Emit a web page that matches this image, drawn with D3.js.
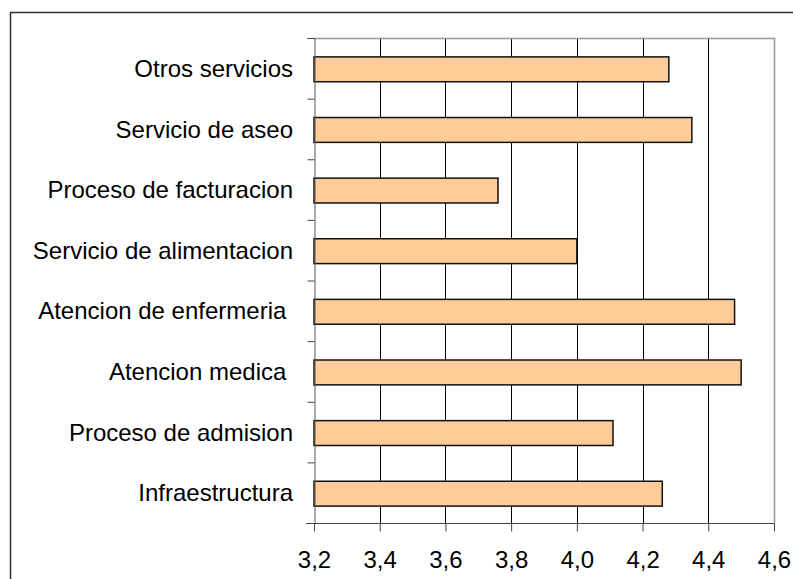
<!DOCTYPE html>
<html>
<head>
<meta charset="utf-8">
<script src="https://cdn.jsdelivr.net/npm/d3@7"></script>
<style>
  body { margin: 0; background: #fff; }
  svg { font-family: "Liberation Sans", Arial, sans-serif; }
  .cat-label { white-space: pre; }
</style>
</head>
<body>
<div id="chart"></div>
<script>
const width = 793;
const height = 579;
// top, right, bottom, left of the plot area
const margin = [38, 19, 56, 314];

// bottom to top, as in the source sheet
const categories = [
  "Infraestructura",
  "Proceso de admision",
  "Atencion medica ",
  "Atencion de enfermeria ",
  "Servicio de alimentacion",
  "Proceso de facturacion",
  "Servicio de aseo",
  "Otros servicios"
];
const values = [4.26, 4.11, 4.50, 4.48, 4.00, 3.76, 4.35, 4.28];
const xTicks = [3.2, 3.4, 3.6, 3.8, 4.0, 4.2, 4.4, 4.6];

const data = categories.map((c, i) => ({ category: c, value: values[i] }));

const svg = d3.select("#chart")
  .append("svg")
  .attr("width", width)
  .attr("height", height);

// outer chart frame (right and bottom run off the picture)
svg.append("rect")
  .attr("x", 10.5).attr("y", 12.5)
  .attr("width", 820).attr("height", 620)
  .attr("fill", "none")
  .attr("stroke", "#333")
  .attr("stroke-width", 1.5);

const x = d3.scaleLinear()
  .domain([3.2, 4.6])
  .range([margin[3], width - margin[1]]);

const y = d3.scaleBand()
  .domain(categories.slice().reverse())
  .range([margin[0], height - margin[2]])
  .padding(0);

const barH = y.bandwidth() * 0.41;

// vertical gridlines
svg.append("g")
  .selectAll("line")
  .data(xTicks.slice(1, -1))
  .enter()
  .append("line")
  .attr("x1", d => Math.round(x(d)) + 0.5)
  .attr("x2", d => Math.round(x(d)) + 0.5)
  .attr("y1", margin[0])
  .attr("y2", height - margin[2])
  .attr("stroke", "#000");

// plot area border: top and right
svg.append("path")
  .attr("d", `M${margin[3]},${margin[0] + 0.5}H${Math.round(x(4.6)) + 0.5}V${height - margin[2]}`)
  .attr("fill", "none")
  .attr("stroke", "#999")
  .attr("stroke-width", 1.5);

// bars
svg.append("g")
  .selectAll("rect")
  .data(data)
  .enter()
  .append("rect")
  .attr("x", x(3.2))
  .attr("y", d => y(d.category) + (y.bandwidth() - barH) / 2 + 1)
  .attr("width", d => x(d.value) - x(3.2))
  .attr("height", barH)
  .attr("fill", "#ffcc99")
  .attr("stroke", "#111")
  .attr("stroke-width", 1.5);

// x axis
const xAxis = svg.append("g")
  .attr("transform", `translate(0,${height - margin[2] + 0.5})`)
  .call(d3.axisBottom(x)
    .tickValues(xTicks)
    .tickSize(8)
    .tickFormat(d => d3.format(".1f")(d).replace(".", ",")));
xAxis.select(".domain").attr("stroke", "#444")
  .attr("d", `M${margin[3] - 8},0H${Math.round(x(4.6)) + 0.5}`);
xAxis.selectAll(".tick line").attr("stroke", "#444");
xAxis.selectAll("text")
  .attr("y", 44)
  .attr("dy", 0)
  .attr("fill", "#000")
  .style("font-size", "24px");

// y axis: ticks at the band edges
const yEdge = d3.scaleLinear()
  .domain([0, categories.length])
  .range([height - margin[2], margin[0]]);
const yAxis = svg.append("g")
  .attr("transform", `translate(${margin[3] + 0.5},0)`)
  .call(d3.axisLeft(yEdge)
    .tickValues(d3.range(categories.length + 1))
    .tickSize(7)
    .tickFormat(""));
yAxis.select(".domain").attr("stroke", "#555");
yAxis.selectAll(".tick line").attr("stroke", "#444");

// category labels
svg.append("g")
  .selectAll("text")
  .data(categories)
  .enter()
  .append("text")
  .attr("class", "cat-label")
  .attr("x", margin[3] - 21)
  .attr("y", d => y(d) + y.bandwidth() / 2)
  .attr("dy", "0.36em")
  .attr("text-anchor", "end")
  .style("font-size", "24px")
  .attr("fill", "#000")
  .text(d => d);
</script>
</body>
</html>
